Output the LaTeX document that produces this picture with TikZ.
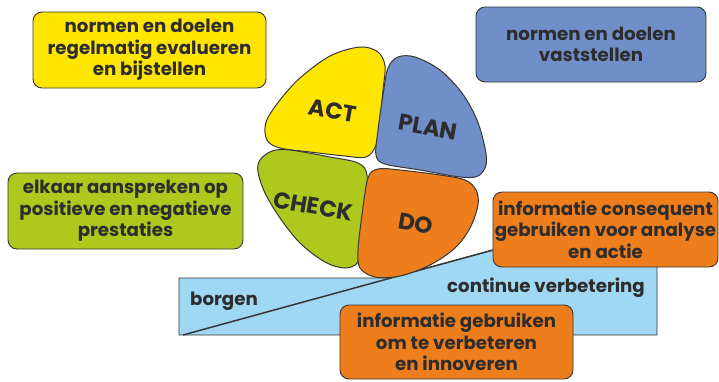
\documentclass[tikz,border=0pt]{standalone}
\usepackage{fontspec}
\setmainfont{Poppins}
\definecolor{yel}{RGB}{255,230,0}
\definecolor{blu}{RGB}{112,142,200}
\definecolor{grn}{RGB}{175,200,30}
\definecolor{org}{RGB}{238,125,27}
\definecolor{lblue}{RGB}{160,215,242}
\definecolor{linec}{RGB}{55,55,55}
\definecolor{txt}{RGB}{45,45,45}
\newcommand{\boxfont}{\fontsize{18.2}{21.5}\selectfont\bfseries}
\newcommand{\petalfont}{\fontsize{23}{26}\selectfont\bfseries}
\begin{document}
\begin{tikzpicture}[x=1pt,y=-1pt,
  infobox/.style={draw=linec, line width=0.9pt, rounded corners=9pt, align=center, inner sep=0pt, font=\boxfont, text=txt},
  petal/.style={draw=linec, line width=1pt},
  plabel/.style={font=\petalfont, text=txt, rotate=-10},
  wlabel/.style={font=\boxfont, text=txt}]
\useasboundingbox (0,0) rectangle (719,381);

% wedge
\coordinate (wtl) at (179,278);
\coordinate (wtm) at (390,278);
\coordinate (dend) at (493,250);
\coordinate (wtr) at (657,250);
\coordinate (wbr) at (657,335);
\coordinate (wbl) at (179,335);
\coordinate (dstart) at (183,335);
\draw[fill=lblue, draw=linec, line width=0.8pt] (wtl) -- (wtm) -- (dend) -- (wtr) -- (wbr) -- (wbl) -- cycle;
\draw[linec, line width=1.5pt] (dstart) -- (dend);
\node[wlabel] (borgen) at (224,301) {borgen};
\node[wlabel] (cv) at (546,288) {continue verbetering};

% petals
\draw[petal, fill=yel] plot[smooth cycle, tension=0.55] coordinates {(266,122) (280,100) (300,78) (330,56) (360,47) (378,52) (385,66) (383,90) (380,120) (376,145) (366,157) (345,156) (310,152) (280,148) (267,140)};
\draw[petal, fill=blu] plot[smooth cycle, tension=0.55] coordinates {(388,68) (398,57) (415,57) (440,70) (462,93) (477,120) (485,148) (486,165) (478,176) (460,177) (420,170) (385,164) (376,155) (378,130) (383,95)};
\draw[petal, fill=grn] plot[smooth cycle, tension=0.55] coordinates {(260,160) (272,151) (290,150) (330,157) (358,163) (367,175) (365,205) (362,240) (358,262) (345,268) (325,262) (300,243) (280,218) (265,193) (258,172)};
\draw[petal, fill=org] plot[smooth cycle, tension=0.55] coordinates {(368,178) (378,169) (400,170) (440,175) (465,180) (476,190) (478,205) (470,228) (455,248) (430,265) (400,276) (375,277) (360,268) (358,250) (362,215)};
\node[plabel] (act) at (333,111) {ACT};
\node[plabel] (plan) at (428,127) {PLAN};
\node[plabel] (check) at (313,206) {CHECK};
\node[plabel] (do) at (416,224) {DO};

% boxes
\node[infobox, fill=yel, minimum width=233pt, minimum height=76pt] (b1) at (149.5,50) {normen en doelen\\regelmatig evalueren\\en bijstellen};
\node[infobox, fill=blu, minimum width=230pt, minimum height=75pt] (b2) at (591,44.5) {normen en doelen\\vaststellen};
\node[infobox, fill=grn, minimum width=235pt, minimum height=76pt] (b3) at (125.5,211) {elkaar aanspreken op\\positieve en negatieve\\prestaties};
\node[infobox, fill=org, minimum width=225pt, minimum height=75pt] (b4) at (605.5,229.5) {informatie consequent\\gebruiken voor analyse\\en actie};
\node[infobox, fill=org, minimum width=233pt, minimum height=74pt] (b5) at (456.5,342) {informatie gebruiken\\om te verbeteren\\en innoveren};
\end{tikzpicture}
\end{document}
